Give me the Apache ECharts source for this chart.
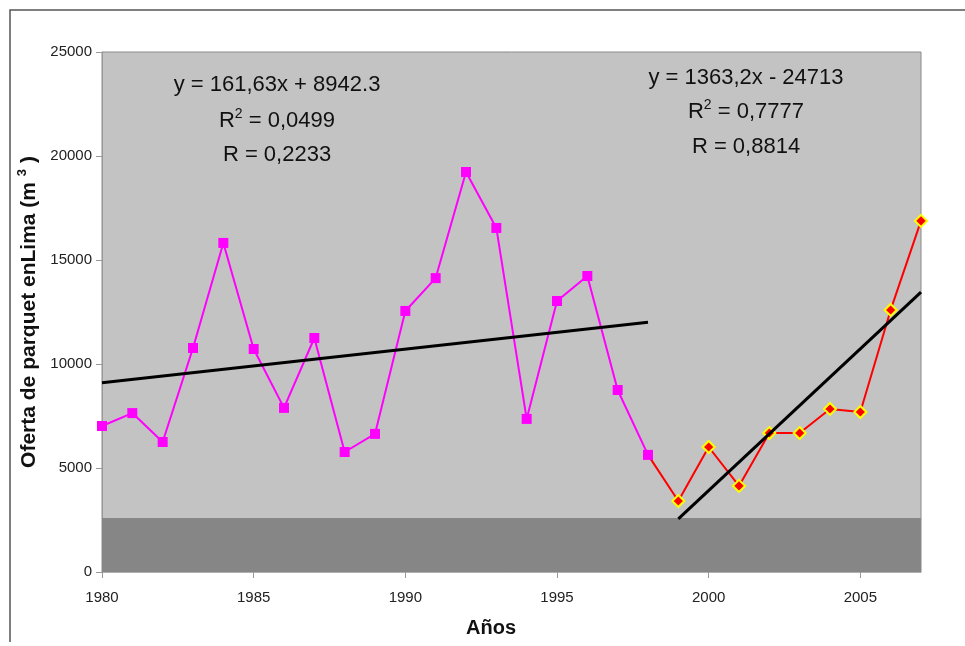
<!DOCTYPE html>
<html>
<head>
<meta charset="utf-8">
<script src="https://cdn.jsdelivr.net/npm/echarts@6/dist/echarts.min.js"></script>
<style>
  html, body { margin: 0; padding: 0; background: #fff; }
  #main { width: 965px; height: 646px; }
</style>
</head>
<body>
<div id="main"></div>
<script>
// años y oferta (m3)
const years1 = [1980, 1981, 1982, 1983, 1984, 1985, 1986, 1987, 1988, 1989,
  1990, 1991, 1992, 1993, 1994, 1995, 1996, 1997, 1998];
const oferta1 = [7020, 7640, 6250, 10770, 15820, 10720, 7890, 11250, 5770, 6640,
  12550, 14130, 19230, 16540, 7360, 13030, 14230, 8750, 5630];

const years2 = [1998, 1999, 2000, 2001, 2002, 2003, 2004, 2005, 2006, 2007];
const oferta2 = [5630, 3410, 6010, 4140, 6680, 6680, 7840, 7690, 12600, 16880];

// lineas de tendencia (extremos)
const trendYears1 = [1980, 1998];
const trendValues1 = [9100, 12010];
const trendYears2 = [1999, 2007];
const trendValues2 = [2550, 13460];

const yTicks = [0, 5000, 10000, 15000, 20000, 25000];

const eq1 = ['y = 161,63x + 8942.3', '{t|R}{s|2}{t| = 0,0499}', 'R = 0,2233'];
const eq2 = ['y = 1363,2x - 24713', '{t|R}{s|2}{t| = 0,7777}', 'R = 0,8814'];

const pairs = (xs, ys) => xs.map((x, i) => [x, ys[i]]);

const font = '"Liberation Sans", Arial, sans-serif';

const eqText = (lines, cx, ys) => lines.map((t, i) => ({
  type: 'text',
  x: cx,
  y: ys[i],
  style: {
    text: t,
    font: '22px ' + font,
    fill: '#111',
    align: 'center',
    verticalAlign: 'middle',
    rich: {
      t: { fontSize: 22, fontFamily: font, fill: '#111' },
      s: { fontSize: 14, fontFamily: font, fill: '#111', padding: [0, 0, 13, 0] },
    },
  },
}));

const chart = echarts.init(document.getElementById('main'));

const data2 = pairs(years2, oferta2).map((p, i) => (
  i === 0 ? { value: p, symbol: 'none' } : p
));

chart.setOption({
  animation: false,
  grid: {
    left: 102,
    right: 44,
    top: 52,
    bottom: 74,
    show: true,
    backgroundColor: '#c3c3c3',
    borderColor: '#8a8a8a',
    borderWidth: 1,
  },
  xAxis: {
    type: 'value',
    min: 1980,
    max: 2007,
    interval: 5,
    name: 'Años',
    nameLocation: 'middle',
    nameGap: 46,
    nameTextStyle: {
      fontFamily: font, fontSize: 20, fontWeight: 'bold', color: '#111',
      padding: [0, 41, 0, 0],
    },
    axisLine: { lineStyle: { color: '#b0b0b0', width: 1 } },
    axisTick: { show: true, length: 6, lineStyle: { color: '#999' } },
    axisLabel: {
      fontFamily: font, fontSize: 15, color: '#222', margin: 18,
      showMaxLabel: false,
      formatter: (v) => String(v),
    },
    splitLine: { show: false },
  },
  yAxis: {
    type: 'value',
    min: yTicks[0],
    max: yTicks[yTicks.length - 1],
    interval: 5000,
    name: '{a|Oferta de parquet enLima (m }{s|3}{a| )}',
    nameLocation: 'middle',
    nameGap: 56,
    nameTextStyle: {
      rich: {
        a: { fontFamily: font, fontSize: 21, fontWeight: 'bold', color: '#111' },
        s: { fontFamily: font, fontSize: 13, fontWeight: 'bold', color: '#111', padding: [0, 0, 13, 0] },
      },
    },
    axisLine: { show: true, lineStyle: { color: '#999', width: 1 } },
    axisTick: { show: true, length: 6, lineStyle: { color: '#999' } },
    axisLabel: {
      fontFamily: font, fontSize: 15, color: '#222', margin: 10,
      formatter: (v) => String(v),
    },
    splitLine: { show: false },
  },
  series: [
    {
      type: 'line',
      data: data2,
      symbol: 'diamond',
      symbolSize: 12,
      lineStyle: { color: '#ff0000', width: 2 },
      itemStyle: { color: '#ff0000', borderColor: '#ffff00', borderWidth: 2 },
      z: 3,
      markArea: {
        silent: true,
        itemStyle: { color: '#868686' },
        data: [[{ yAxis: 0 }, { yAxis: 2600 }]],
      },
    },
    {
      type: 'line',
      data: pairs(years1, oferta1),
      symbol: 'rect',
      symbolSize: 10,
      lineStyle: { color: '#ff00ff', width: 2 },
      itemStyle: { color: '#ff00ff' },
      z: 4,
    },
    {
      type: 'line',
      data: pairs(trendYears1, trendValues1),
      symbol: 'none',
      lineStyle: { color: '#000', width: 3 },
      z: 5,
    },
    {
      type: 'line',
      data: pairs(trendYears2, trendValues2),
      symbol: 'none',
      lineStyle: { color: '#000', width: 3 },
      z: 5,
    },
  ],
  graphic: [
    {
      type: 'polyline',
      shape: { points: [[10, 642], [10, 10], [965, 10]] },
      style: { stroke: '#555', lineWidth: 1.5, fill: null },
    },
    ...eqText(eq1, 277, [85, 121, 155]),
    ...eqText(eq2, 746, [78, 112, 147]),
  ],
});
</script>
</body>
</html>
